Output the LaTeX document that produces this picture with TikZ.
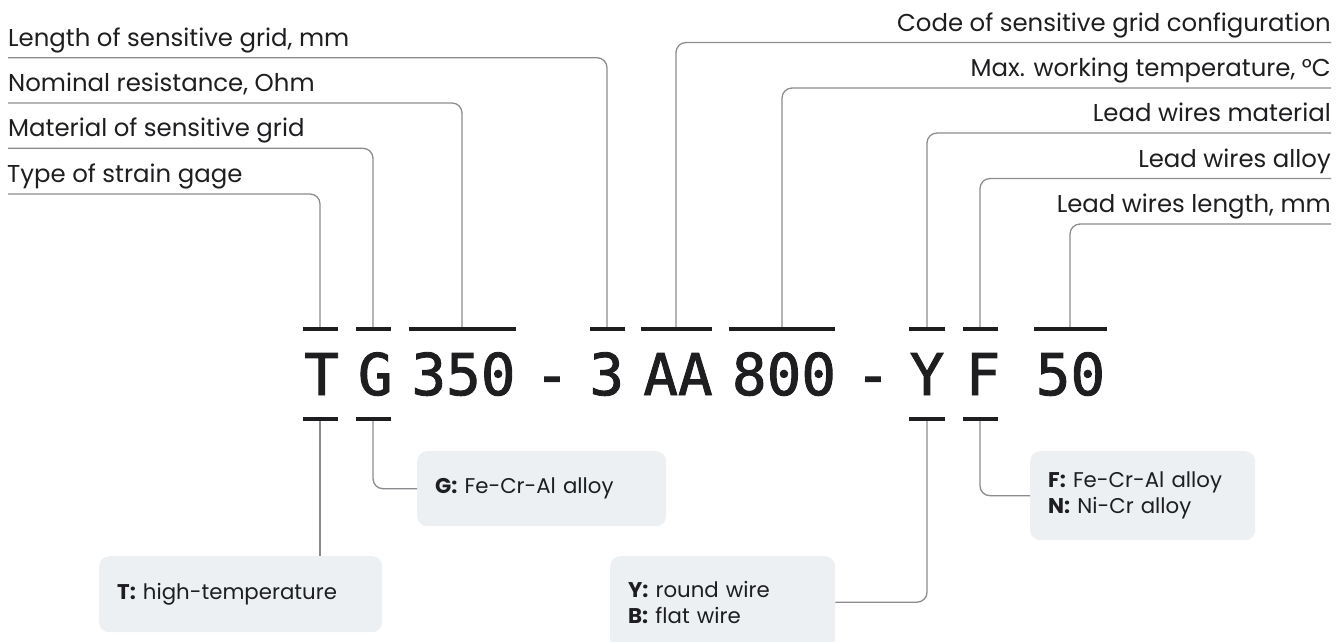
\documentclass[tikz,border=0pt]{standalone}
\usepackage{fontspec}
\setmainfont{Poppins}
\newfontfamily\codefont[FakeBold=1.6]{DejaVu Sans Mono}
\definecolor{ink}{HTML}{1E1E21}
\definecolor{lnc}{HTML}{8C8C90}
\definecolor{boxc}{HTML}{EDF0F3}
\begin{document}
\begin{tikzpicture}[x=1pt,y=-1pt,
  lbl/.style={inner sep=0, font=\fontsize{24.4}{28}\selectfont, text=ink},
  conn/.style={draw=lnc, line width=1.3pt, rounded corners=10pt},
  barbox/.style={fill=ink, inner sep=0, minimum height=4pt, minimum width=#1},
  codetxt/.style={font=\codefont\fontsize{57.6}{60}\selectfont, inner sep=0, anchor=base, text=ink},
  infobox/.style={fill=boxc, rounded corners=10pt, inner xsep=18pt, inner ysep=0pt, anchor=north west,
     align=left, font=\fontsize{21.3}{26}\selectfont, text=ink}
]
\useasboundingbox (0,0) rectangle (1339,641);
\clip (0,0) rectangle (1339,641);

% code characters
\node[codetxt] (cT) at (321.7,395) {T};
\node[codetxt] (cG) at (375.3,395) {G};
\node[codetxt] (cR) at (463.5,395) {350};
\node[codetxt] (cD1) at (552,395) {-};
\node[codetxt] (cL) at (606.7,395) {3};
\node[codetxt] (cC) at (678,395) {AA};
\node[codetxt] (cM) at (784,395) {800};
\node[codetxt] (cD2) at (873,395) {-};
\node[codetxt] (cY) at (927,395) {Y};
\node[codetxt] (cF) at (983,395) {F};
\node[codetxt] (cN) at (1070.5,395) {50};

% top bars
\node[barbox=35] (tT) at (320,329) {};
\node[barbox=35] (tG) at (373,329) {};
\node[barbox=107] (tR) at (462,329) {};
\node[barbox=35] (tL) at (607,329) {};
\node[barbox=71] (tC) at (676,329) {};
\node[barbox=106] (tM) at (782,329) {};
\node[barbox=36] (tY) at (927,329) {};
\node[barbox=35] (tF) at (980,329) {};
\node[barbox=73] (tN) at (1070,329) {};
% bottom bars
\node[barbox=35] (uT) at (320,419) {};
\node[barbox=35] (uG) at (373,419) {};
\node[barbox=36] (uY) at (927,419) {};
\node[barbox=35] (uF) at (980,419) {};

% left labels
\node[lbl, anchor=base west] (lLen) at (8,46) {Length of sensitive grid, mm};
\node[lbl, anchor=base west] (lNom) at (8,91.3) {Nominal resistance, Ohm};
\node[lbl, anchor=base west] (lMat) at (8,136.6) {Material of sensitive grid};
\node[lbl, anchor=base west] (lTyp) at (7,182.3) {Type of strain gage};
% right labels
\node[lbl, anchor=base east] (rCode) at (1331,31) {Code of sensitive grid configuration};
\node[lbl, anchor=base east] (rMax) at (1331,76.5) {Max. working temperature, °C};
\node[lbl, anchor=base east] (rMat) at (1331,121.5) {Lead wires material};
\node[lbl, anchor=base east] (rAll) at (1331,167) {Lead wires alloy};
\node[lbl, anchor=base east] (rLen) at (1331,212.5) {Lead wires length, mm};

\coordinate (sLen) at (8,57.7);
\coordinate (sNom) at (8,103);
\coordinate (sMat) at (8,148.3);
\coordinate (sTyp) at (8,194);
\coordinate (eCode) at (1331,42.5);
\coordinate (eMax) at (1331,88);
\coordinate (eMat) at (1331,133);
\coordinate (eAll) at (1331,178.5);
\coordinate (eLen) at (1331,224);

\draw[conn] (sLen) -| (tL.north);
\draw[conn] (sNom) -| (tR.north);
\draw[conn] (sMat) -| (tG.north);
\draw[conn] (sTyp) -| (tT.north);
\draw[conn] (eCode) -| (tC.north);
\draw[conn] (eMax) -| (tM.north);
\draw[conn] (eMat) -| (tY.north);
\draw[conn] (eAll) -| (tF.north);
\draw[conn] (eLen) -| (tN.north);

% info boxes
\node[infobox, text width=247pt, minimum height=76pt] (bT) at (99,556) {\textbf{T:} high-temperature};
\node[infobox, text width=213pt, minimum height=75pt] (bG) at (417,451) {\textbf{G:} Fe-Cr-Al alloy};
\node[infobox, text width=189pt, minimum height=92pt] (bY) at (610,556) {\textbf{Y:} round wire\\\textbf{B:} flat wire};
\node[infobox, text width=189pt, minimum height=89pt] (bF) at (1030,451) {\textbf{F:} Fe-Cr-Al alloy\\\textbf{N:} Ni-Cr alloy};

\draw[conn] (uT.south) -- (uT.south |- bT.north);
\draw[conn] (uG.south) |- (bG.west);
\draw[conn] (uY.south) |- (bY.east);
\draw[conn] (uF.south) |- (bF.west);
\end{tikzpicture}
\end{document}
